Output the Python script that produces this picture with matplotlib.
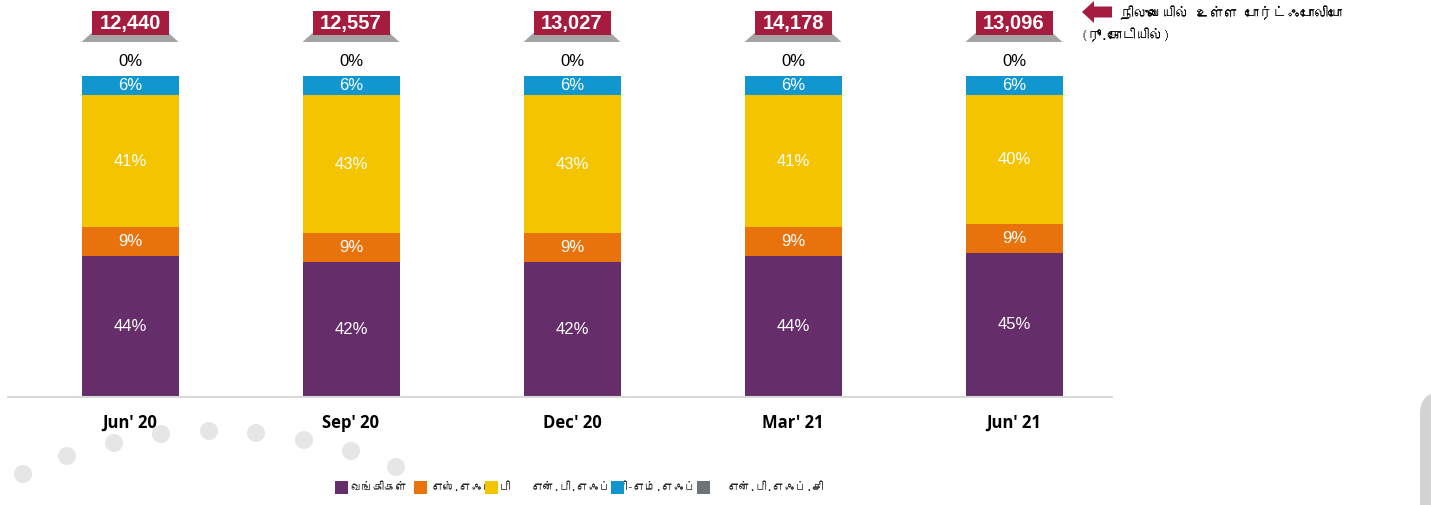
import matplotlib
matplotlib.use('Agg')
import matplotlib.pyplot as plt
from matplotlib import font_manager as fm
from matplotlib.patches import Rectangle, Polygon, Ellipse, FancyArrow, FancyBboxPatch
import numpy as np

# --- Data ---
quarters = ["Jun' 20", "Sep' 20", "Dec' 20", "Mar' 21", "Jun' 21"]
totals = ['12,440', '12,557', '13,027', '14,178', '13,096']
banks = [44, 42, 42, 44, 45]
sfb = [9, 9, 9, 9, 9]
nbfc_mfi = [41, 43, 43, 41, 40]
nbfc = [6, 6, 6, 6, 6]
others = [0.4, 0.4, 0.4, 0.4, 0.4]

series = [banks, sfb, nbfc_mfi, nbfc, others]
colors = ['#662D6B', '#E8730C', '#F5C400', '#1196CF', '#6C7379']
legend_labels = ['வங்கிகள்', 'எஸ்.எஃப்.பி', 'என்.பி.எஃப்.சி-எம்.எஃப்.ஐ', 'என்.பி.எஃப்.சி']
title_line1 = 'நிலுவையில் உள்ள போர்ட்ஃபோலியோ'
title_line2 = '(ரூ.கோடியில்)'

# find some font that can draw Tamil, if any is installed
tamil_font = None
for f in fm.fontManager.ttflist:
    try:
        cmap = matplotlib.ft2font.FT2Font(f.fname).get_charmap()
    except Exception:
        continue
    if 0x0BA8 in cmap and 0x0B95 in cmap:
        tamil_font = f.name
        break
tamil_family = [tamil_font, 'DejaVu Sans'] if tamil_font else ['DejaVu Sans']

W, H = 1431, 505
fig = plt.figure(figsize=(W / 100, H / 100), dpi=100)

# axes: baseline at y=397px, 100% at y=76px, x from 8 to 1112px
ax = fig.add_axes([8 / W, (H - 397) / H, 1104 / W, 321 / H])
px = 221.0
x0 = (130 - 8) / px
ax.set_xlim(-x0, -x0 + 1104 / px)
ax.set_ylim(0, 100)
x = np.arange(len(quarters))
bw = 97 / px

bottom = np.zeros(len(quarters))
for i, (vals, c) in enumerate(zip(series, colors)):
    vals = np.array(vals, dtype=float)
    ax.bar(x, vals, bw, bottom=bottom, color=c, linewidth=0, zorder=2)
    for xi, v, b in zip(x, vals, bottom):
        txt = f'{round(v)}%'
        if i == 4:
            ax.text(xi, b + v + 4, txt, ha='center', va='center', fontsize=12,
                    color='black', family='Liberation Sans', clip_on=False)
        else:
            ax.text(xi, b + v / 2, txt, ha='center', va='center', fontsize=12,
                    color='white', family='Liberation Sans')
    bottom += vals

# total boxes with gray "shelf" underneath
upx = 100 / 321.0
for xi, t in zip(x, totals):
    top = 100 + 34 * upx
    shelf_top = 100 + 43 * upx
    hw_box = 38.5 / px
    hw_bot = bw / 2
    ax.add_patch(Polygon([(xi - hw_bot, top), (xi + hw_bot, top),
                          (xi + hw_box, shelf_top), (xi - hw_box, shelf_top)],
                         closed=True, color='#A3A3A3', lw=0, clip_on=False))
    ax.add_patch(Rectangle((xi - hw_box, 100 + 41 * upx), 2 * hw_box, 24 * upx,
                           color='#A51C3E', lw=0, clip_on=False, zorder=3))
    ax.text(xi, 100 + 53 * upx, t, ha='center', va='center', fontsize=14.5,
            fontweight='bold', color='white', family='Liberation Sans', zorder=4, clip_on=False)

for s in ['top', 'right', 'left']:
    ax.spines[s].set_visible(False)
ax.spines['bottom'].set_color('#D9D9D9')
ax.spines['bottom'].set_linewidth(1.5)
ax.set_yticks([])
ax.set_xticks(x)
ax.set_xticklabels(quarters, fontsize=12, fontweight='bold', family='Open Sans')
ax.tick_params(axis='x', length=0, pad=12)
ax.set_facecolor('none')

# decorative dots and corner shape
dots = [(23, 474), (67, 456), (114, 443), (161, 434), (209, 431), (256, 433),
        (304, 440), (351, 451), (396, 467)]
for dx, dy in dots:
    fig.patches.append(Ellipse((dx / W, 1 - dy / H), 18 / W, 18 / H, transform=fig.transFigure,
                               color='#E6E6E6', lw=0, zorder=0))
# display coords (pixels from bottom-left)
fig.patches.append(FancyBboxPatch((1420, -60), 80, H - 392 + 60,
                                  boxstyle='round,pad=0,rounding_size=22',
                                  transform=None, color='#D3D3D3', lw=0, zorder=0))

# legend drawn by hand to keep the odd spacing
ly = 1 - 487 / H
sq = 13
for sx, c in zip([335, 414, 485, 611, 697], colors):
    fig.patches.append(Rectangle((sx / W, ly - sq / 2 / H), sq / W, sq / H,
                                 transform=fig.transFigure, color=c, lw=0, zorder=1))
for tx, lab in zip([350, 432, 532, 728], legend_labels):
    fig.text(tx / W, ly, lab, ha='left', va='center', fontsize=8.2,
             family=tamil_family, color='#222222', zorder=0.5)

# annotation top right
fig.patches.append(FancyArrow(1112 / W, 1 - 12 / H, -30 / W, 0, width=11 / H,
                              head_width=22 / H, head_length=12 / W, length_includes_head=True,
                              transform=fig.transFigure, color='#A51C3E', lw=0))
fig.text(1120 / W, 1 - 13 / H, title_line1, ha='left', va='center', fontsize=10,
         fontweight='bold', family=tamil_family)
fig.text(1080 / W, 1 - 35 / H, title_line2, ha='left', va='center', fontsize=10,
         fontweight='bold', style='italic', family=tamil_family)

fig.savefig('out.png', dpi=100)
